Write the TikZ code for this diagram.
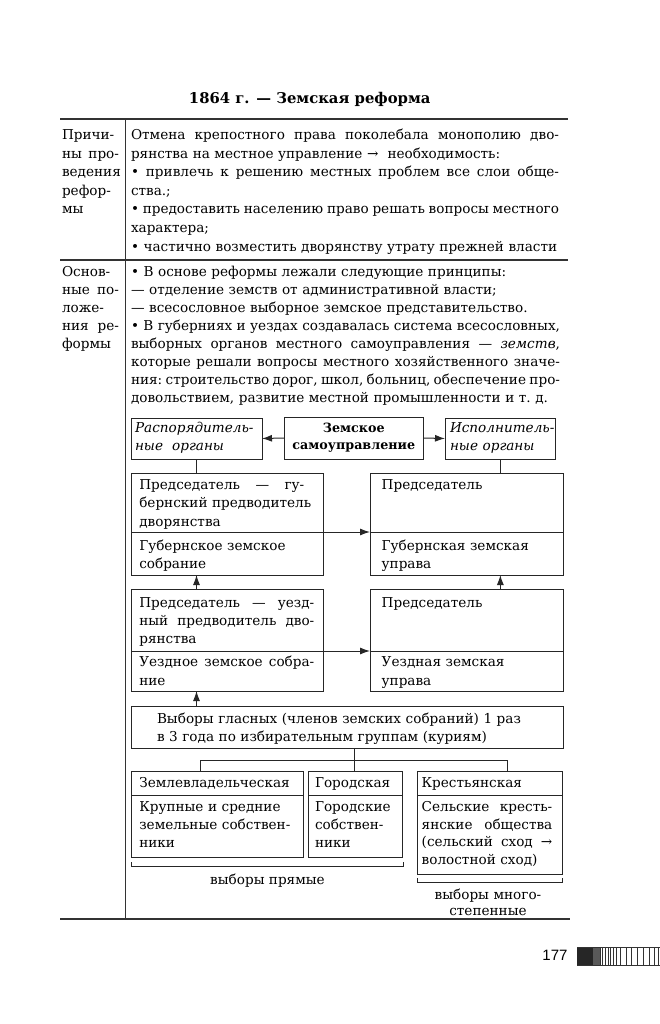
\documentclass[tikz,border=0pt]{standalone}
\usepackage{fontspec}
\setmainfont{DejaVu Serif}
\newfontfamily\numfont{Liberation Sans}
\usetikzlibrary{arrows.meta}
\newcommand\jl[2]{\leavevmode\hbox to #1{\frenchspacing\spaceskip=.318em plus 1em minus .11em\relax #2}}
\newcommand\myfnt{\fontsize{13.6}{18.3}\selectfont}
\tikzset{
 txt/.style={inner sep=0pt, outer sep=0pt, anchor=base west, align=left, font=\myfnt},
 bxs/.style={draw=black!85, line width=1pt, inner sep=0pt, outer sep=0pt, anchor=north west},
 rulest/.style={draw=black!80, line width=1.4pt},
 arr/.style={draw=black!85, line width=1pt, -{Latex[length=10pt,width=7pt]}},
 ln/.style={draw=black!85, line width=1pt},
}
\newcommand\mkbox[5]{\node[bxs, minimum width={(#4-#2)*1pt}, minimum height={(#5-#3)*1pt}] (#1) at (#2,#3) {};}
\begin{document}
\begin{tikzpicture}[x=1pt,y=-1pt]
\fill[white] (0,0) rectangle (660,1024);
\useasboundingbox (0,0) rectangle (660,1024);
% title
\node[inner sep=0pt, anchor=base, font=\fontsize{14.8}{18}\selectfont\bfseries] (title) at (309.7,104) {1864 г. — Земская реформа};
% rules
\draw[rulest] (60,119) -- (568,119);
\draw[rulest] (60,260) -- (568,260);
\draw[rulest] (60,919) -- (570,919);
\draw[rulest] (125.5,119) -- (125.5,919);
% section 1
\node[txt, text width=58pt, font=\fontsize{13.6}{18.6}\selectfont] (c1) at (62,139.5) {Причи-\\\jl{57pt}{ны про-}\\ведения\\рефор-\\мы};
\node[txt, text width=428pt, font=\fontsize{13.6}{18.6}\selectfont] (r1) at (131,139.5) {\jl{428pt}{Отмена крепостного права поколебала монополию дво-}\\рянства на местное управление → \ необходимость:\\\jl{428pt}{• привлечь к решению местных проблем все слои обще-}\\ства.;\\\jl{428pt}{• предоставить населению право решать вопросы местного}\\характера;\\• частично возместить дворянству утрату прежней власти};
% section 2
\node[txt, text width=58pt, font=\fontsize{13.6}{18.1}\selectfont] (c2) at (62,276) {Основ-\\\jl{57pt}{ные по-}\\ложе-\\\jl{57pt}{ния ре-}\\формы};
\node[txt, text width=429pt, font=\fontsize{13.6}{18.1}\selectfont] (r2) at (131,276) {• В основе реформы лежали следующие принципы:\\— отделение земств от административной власти;\\— всесословное выборное земское представительство.\\\jl{429pt}{• В губерниях и уездах создавалась система всесословных,}\\\jl{429pt}{выборных органов местного самоуправления — \textit{земств},}\\\jl{429pt}{которые решали вопросы местного хозяйственного значе-}\\\jl{429pt}{ния: строительство дорог, школ, больниц, обеспечение про-}\\довольствием, развитие местной промышленности и т.~д.};
% diagram boxes
\mkbox{R}{131}{418}{262}{459}
\mkbox{Z}{284.3}{417}{423.3}{459}
\mkbox{I}{445}{418}{555.7}{459}
\mkbox{L1a}{131.7}{473.5}{323.3}{532}
\mkbox{L1b}{131.7}{532}{323.3}{575}
\mkbox{R1a}{370}{473.5}{563}{532}
\mkbox{R1b}{370}{532}{563}{575}
\mkbox{L2a}{131.7}{589.5}{323.3}{651}
\mkbox{L2b}{131.7}{651}{323.3}{691}
\mkbox{R2a}{370}{589.5}{563}{651}
\mkbox{R2b}{370}{651}{563}{691}
\mkbox{E}{131.7}{706}{563}{748}
\mkbox{ZVa}{131.7}{771.7}{303.3}{795}
\mkbox{ZVb}{131.7}{795}{303.3}{857.3}
\mkbox{Ga}{308.3}{771.7}{402.7}{795}
\mkbox{Gb}{308.3}{795}{402.7}{857.3}
\mkbox{Ka}{417.7}{771.7}{562.3}{795}
\mkbox{Kb}{417.7}{795}{562.3}{874}
% box texts
\node[txt, text width=125pt, font=\myfnt\itshape] (Rt) at (135,432) {Распорядитель-\\ные\ \ органы};
\node[inner sep=0pt, anchor=base, text width=135pt, align=center, font=\fontsize{12.7}{17.5}\selectfont\bfseries] (Zt) at (353.8,432) {Земское\\самоуправление};
\node[txt, text width=108pt, font=\myfnt\itshape] (It) at (450,432) {Исполнитель-\\ные органы};
\node[txt, text width=180pt] (L1at) at (139.3,489.5) {\jl{165pt}{Председатель — гу-}\\бернский предводитель\\дворянства};
\node[txt, text width=180pt] (L1bt) at (139.3,550.5) {Губернское земское\\собрание};
\node[txt, text width=175pt] (R1at) at (381.7,489.5) {Председатель};
\node[txt, text width=175pt] (R1bt) at (381.7,550.5) {Губернская земская\\управа};
\node[txt, text width=176pt] (L2at) at (139.3,607.2) {\jl{175pt}{Председатель — уезд-}\\\jl{175pt}{ный предводитель дво-}\\рянства};
\node[txt, text width=176pt, font=\fontsize{13.6}{19}\selectfont] (L2bt) at (139.3,666.2) {\jl{175pt}{Уездное земское собра-}\\ние};
\node[txt, text width=175pt] (R2at) at (381.7,607.2) {Председатель};
\node[txt, text width=175pt, font=\fontsize{13.6}{19}\selectfont] (R2bt) at (381.7,666.2) {Уездная земская\\управа};
\node[txt, text width=400pt, font=\fontsize{13.6}{17.7}\selectfont] (Et) at (157,723.5) {Выборы гласных (членов земских собраний) 1 раз\\в 3 года по избирательным группам (куриям)};
\node[txt] (ZVat) at (139.3,787.2) {Землевладельческая};
\node[txt, text width=160pt, font=\fontsize{13.6}{18}\selectfont] (ZVbt) at (139.3,811.2) {Крупные и средние\\земельные собствен-\\ники};
\node[txt] (Gat) at (315,787.2) {Городская};
\node[txt, text width=85pt, font=\fontsize{13.6}{18}\selectfont] (Gbt) at (315,811.2) {Городские\\собствен-\\ники};
\node[txt] (Kat) at (421.7,787.2) {Крестьянская};
\node[txt, text width=131pt, font=\fontsize{13.6}{17.8}\selectfont] (Kbt) at (421.7,811.2) {\jl{130.6pt}{Сельские кресть-}\\\jl{130.6pt}{янские общества}\\\jl{130.6pt}{(сельский сход →}\\волостной сход)};
% connectors
\draw[arr] (Z.west) -- (R.east);
\draw[arr] (Z.east) -- (I.west);
\draw[ln] (R.south) -- (R.south |- L1a.north);
\draw[ln] (I.south) -- (I.south |- R1a.north);
\draw[arr] (L1b.north east) -- (R1b.north west);
\draw[arr] (L2b.north east) -- (R2b.north west);
\draw[arr] (R.south |- L2a.north) -- (R.south |- L1b.south);
\draw[arr] (R.south |- E.north) -- (R.south |- L2b.south);
\draw[arr] (I.south |- R2a.north) -- (I.south |- R1b.south);
\coordinate (jn) at (354.3,760);
\coordinate (jl) at (200,760);
\coordinate (jr) at (507,760);
\draw[ln] (E.south -| jn) -- (Ga.north -| jn);
\draw[ln] (jl |- ZVa.north) -- (jl) -- (jr) -- (jr |- Ka.north);
% braces
\draw[ln] (131.7,862) -- (131.7,866.7) -- (403.3,866.7) -- (403.3,862);
\draw[ln] (417.5,878) -- (417.5,882.7) -- (562.3,882.7) -- (562.3,878);
\node[inner sep=0pt, anchor=base, font=\myfnt] (b1) at (267.5,884.5) {выборы прямые};
\node[inner sep=0pt, anchor=base, text width=150pt, align=center, font=\fontsize{13.6}{15.5}\selectfont] (b2) at (488,899.5) {выборы много-\\степенные};
% page number and bar
\node[inner sep=0pt, anchor=base, font=\numfont\fontsize{15}{18}\selectfont] (pg) at (555,960.5) {177};
\fill[black!85] (577,947) rectangle (593,965);
\fill[black!65] (593,947) rectangle (600,965);
\draw[black!80, line width=0.8pt] (577,947) -- (660,947);
\draw[black!80, line width=0.8pt] (577,965) -- (660,965);
\foreach \x in {600,602.7,605.3,608,610.7,613.3,616.7,620.7,626,631.7,637.7,643.3,649,654,658.3}
  \draw[black!80, line width=0.8pt] (\x,947) -- (\x,965);
\end{tikzpicture}
\end{document}
